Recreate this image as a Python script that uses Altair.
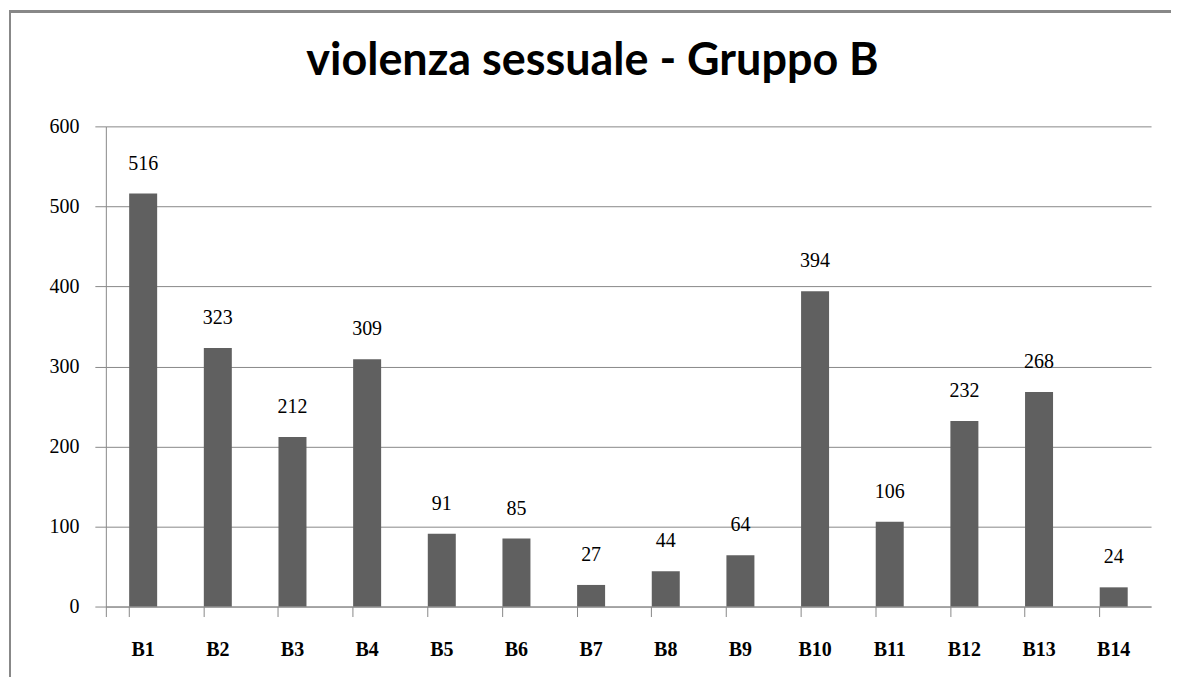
import altair as alt
import pandas as pd

categories = ["B1", "B2", "B3", "B4", "B5", "B6", "B7", "B8", "B9", "B10", "B11", "B12", "B13", "B14"]
values = [516, 323, 212, 309, 91, 85, 27, 44, 64, 394, 106, 232, 268, 24]
y_ticks = [0, 100, 200, 300, 400, 500, 600]

df = pd.DataFrame({"cat": categories, "val": values})

GRAY = "#888888"
BAR = "#606060"
FONT = "Liberation Serif"

x = alt.X("cat:N", sort=categories, title=None,
          scale=alt.Scale(paddingInner=0.625, paddingOuter=0.3125),
          axis=alt.Axis(labelAngle=0, bandPosition=0, tickExtra=True, tickSize=10,
                        tickColor=GRAY, domainColor=GRAY, labelFont=FONT, labelFontSize=20,
                        labelFontWeight="bold", labelColor="black", labelPadding=23, grid=False))
y = alt.Y("val:Q", title=None,
          scale=alt.Scale(domain=[0, 600], nice=False),
          axis=alt.Axis(values=y_ticks, tickSize=11, tickColor=GRAY, domainColor=GRAY,
                        gridColor=GRAY, grid=True, labelFont=FONT, labelFontSize=20,
                        labelColor="black", labelPadding=16))

bars = alt.Chart(df).mark_bar(color=BAR).encode(x=x, y=y)
labels = alt.Chart(df).mark_text(font=FONT, fontSize=20, baseline="bottom", dy=-20,
                                 color="black").encode(x=x, y=y, text="val:Q")
border = alt.Chart(df).mark_rect(fill=None, stroke=GRAY, strokeWidth=2).encode(
    x=alt.value(-96), x2=alt.value(1200), y=alt.value(-115), y2=alt.value(700))

chart = alt.layer(border, bars, labels).properties(
    width=1047, height=481,
    autosize=alt.AutoSizeParams(type="none"),
    padding={"left": 98, "top": 118, "right": 20, "bottom": 70},
    title=alt.TitleParams("violenza sessuale - Gruppo B", font="Lato", fontSize=45,
                          fontWeight="bold", color="black", anchor="middle", dx=-36,
                          baseline="alphabetic", offset=-110),
).configure_view(stroke=None)

chart.save("out.html", embed_options={"renderer": "svg", "actions": False})
